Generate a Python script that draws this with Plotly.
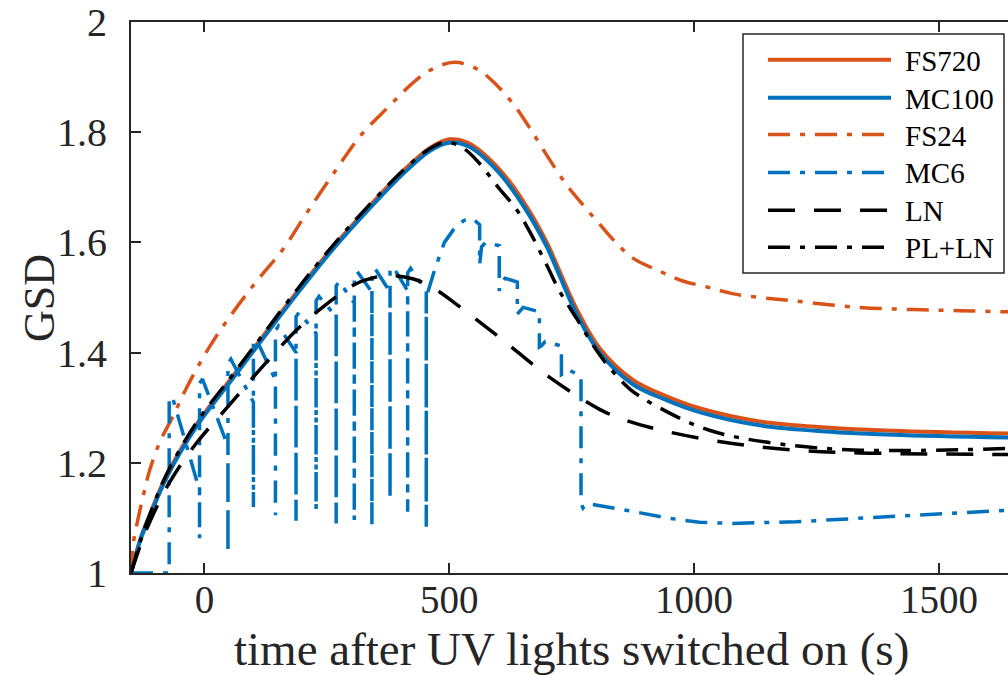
import plotly.graph_objects as go

# ---------------- data ----------------
ORANGE = "#D95319"
BLUE = "#0072BD"

x_solid = [-150, -130, -112, -78, -17, 51, 119, 194, 260, 323, 405, 460, 500, 540, 600, 650,
           698, 725, 760, 807, 874, 940, 1011, 1134, 1270, 1405, 1641]
fs720 = [1.000, 1.064, 1.105, 1.176, 1.269, 1.349, 1.429, 1.516, 1.589, 1.652, 1.729, 1.771, 1.787,
         1.780, 1.735, 1.676, 1.602, 1.548, 1.479, 1.408, 1.351, 1.322, 1.299, 1.275, 1.264, 1.258, 1.253]
mc100 = [1.000, 1.062, 1.102, 1.172, 1.265, 1.345, 1.425, 1.512, 1.585, 1.648, 1.724, 1.766, 1.781,
         1.774, 1.728, 1.668, 1.594, 1.540, 1.470, 1.400, 1.343, 1.315, 1.292, 1.268, 1.257, 1.251, 1.246]

x_fs24 = [-150, -146, -139, -125, -112, -90, -65, -40, -10, 20, 51, 85, 119, 160, 210, 269, 320, 378,
          420, 460, 511, 560, 596, 630, 664, 700, 739, 774, 807, 840, 874, 929, 977, 1031, 1078, 1134,
          1201, 1338, 1450, 1542, 1641]
fs24 = [1.000, 1.050, 1.084, 1.140, 1.186, 1.240, 1.283, 1.330, 1.380, 1.424, 1.464, 1.505, 1.543,
        1.587, 1.655, 1.732, 1.795, 1.848, 1.885, 1.912, 1.927, 1.913, 1.886, 1.852, 1.808, 1.757,
        1.705, 1.667, 1.633, 1.600, 1.572, 1.548, 1.530, 1.518, 1.507, 1.500, 1.494, 1.482, 1.478,
        1.476, 1.474]

x_ln = [-150, -130, -112, -71, -17, 51, 119, 187, 241, 310, 350, 378, 425, 466, 514, 602, 705, 807,
        861, 943, 1078, 1208, 1338, 1641]
ln = [1.000, 1.052, 1.092, 1.165, 1.235, 1.305, 1.375, 1.440, 1.482, 1.525, 1.537, 1.540, 1.534,
      1.518, 1.488, 1.428, 1.355, 1.297, 1.277, 1.257, 1.235, 1.223, 1.218, 1.215]

x_plln = [-150, -130, -112, -78, -17, 51, 119, 194, 260, 323, 405, 460, 495, 530, 560, 600, 637, 664,
          700, 725, 760, 800, 827, 870, 929, 1031, 1168, 1338, 1641]
plln = [1.000, 1.060, 1.105, 1.178, 1.272, 1.352, 1.432, 1.520, 1.592, 1.655, 1.730, 1.770, 1.782,
        1.770, 1.745, 1.700, 1.660, 1.620, 1.557, 1.512, 1.462, 1.405, 1.373, 1.333, 1.300, 1.259,
        1.235, 1.223, 1.226]

# MC6: saw-tooth rise with downward spikes, then step-wise decay
mc6_spike_x = [-72, -10, 48, 100, 145, 187, 228, 269, 306, 342, 379, 415, 453]
mc6_valley = [1.000, 1.150, 1.230, 1.310, 1.350, 1.400, 1.435, 1.465, 1.490, 1.510, 1.510, 1.512, 1.512]
mc6_bottom = [1.000, 1.063, 1.036, 1.120, 1.105, 1.095, 1.114, 1.090, 1.096, 1.087, 1.136, 1.111, 1.084]
mc6_top = [1.313, 1.344, 1.380, 1.416, 1.440, 1.465, 1.494, 1.521, 1.539, 1.545, 1.548, 1.545, 1.500]
mc6_peak_x = [470, 490, 510, 530, 548]
mc6_peak_y = [1.550, 1.600, 1.625, 1.640, 1.643]
mc6_step_x = [562, 602, 639, 684, 729, 769]
mc6_step_before = [1.632, 1.594, 1.528, 1.474, 1.412, 1.357]
mc6_step_after = [1.560, 1.512, 1.470, 1.410, 1.360, 1.127]
mc6_step_plateau = [1.600, 1.535, 1.482, 1.420, 1.370, 1.126]
mc6_tail_x = [874, 943, 1011, 1078, 1208, 1406, 1641]
mc6_tail_y = [1.112, 1.100, 1.092, 1.090, 1.093, 1.102, 1.114]

legend_names = ["FS720", "MC100", "FS24", "MC6", "LN", "PL+LN"]
x_ticks = [0, 500, 1000, 1500]
y_ticks = [1, 1.2, 1.4, 1.6, 1.8, 2]
y_ticktext = ["1", "1.2", "1.4", "1.6", "1.8", "2"]

# ---------------- build MC6 path ----------------
DASHDOT = "22px,10px,5px,10px"
DASHED = "27px,19px"

mx, my = [-150], [1.0]
for i, sx in enumerate(mc6_spike_x):
    mx += [sx, sx, sx]
    my += [mc6_valley[i], mc6_bottom[i], mc6_top[i]]
    if i < len(mc6_spike_x) - 1:
        mx.append(sx + 6)
        my.append(mc6_top[i] + 0.008)
mx += mc6_peak_x
my += mc6_peak_y
for i, sx in enumerate(mc6_step_x):
    mx += [sx, sx, sx + 4, sx + 12]
    my += [mc6_step_before[i], mc6_step_after[i], mc6_step_plateau[i] - 0.008, mc6_step_plateau[i]]
mx += mc6_tail_x
my += mc6_tail_y

fig = go.Figure()
LW = 3.5
LWS = 4
fig.add_trace(go.Scatter(x=x_solid, y=fs720, mode="lines",
                         line=dict(color=ORANGE, width=LWS, shape="spline"), showlegend=False))
fig.add_trace(go.Scatter(x=x_solid, y=mc100, mode="lines",
                         line=dict(color=BLUE, width=LWS, shape="spline"), showlegend=False))
fig.add_trace(go.Scatter(x=x_fs24, y=fs24, mode="lines",
                         line=dict(color=ORANGE, width=LW, dash=DASHDOT, shape="spline"), showlegend=False))
fig.add_trace(go.Scatter(x=mx, y=my, mode="lines",
                         line=dict(color=BLUE, width=LW, dash=DASHDOT), showlegend=False))
fig.add_trace(go.Scatter(x=x_ln, y=ln, mode="lines",
                         line=dict(color="black", width=LW, dash=DASHED, shape="spline"), showlegend=False))
fig.add_trace(go.Scatter(x=x_plln, y=plln, mode="lines",
                         line=dict(color="black", width=LW, dash=DASHDOT, shape="spline"), showlegend=False))

W, H = 1008, 675
L, R, T, B = 131, 0, 20, 102
pw, ph = W - L - R, H - T - B


def px2paper(px, py):
    return (px - L) / pw, (H - B - py) / ph


AX = "#262626"
FONT = "Liberation Serif"

fig.update_layout(
    width=W, height=H, margin=dict(l=L, r=R, t=T, b=B, pad=0),
    plot_bgcolor="white", paper_bgcolor="white",
    font=dict(family=FONT, color=AX),
    xaxis=dict(range=[-150, 1641], tickvals=x_ticks, ticks="inside", ticklen=10,
               tickwidth=1.5, tickcolor=AX, showline=True, linecolor=AX, linewidth=1.8,
               mirror="ticks", showgrid=False, zeroline=False, ticklabeloverflow="allow",
               tickfont=dict(family=FONT, size=39, color=AX), ticklabelstandoff=-9),
    yaxis=dict(range=[1, 2], tickvals=y_ticks, ticktext=y_ticktext,
               ticks="inside", ticklen=10, tickwidth=1.5, tickcolor=AX, showline=True, linecolor=AX,
               linewidth=1.8, mirror=False, showgrid=False, zeroline=False, ticklabeloverflow="allow",
               tickfont=dict(family=FONT, size=40, color=AX), ticklabelstandoff=14),
)

# axis titles
xt, yt = px2paper(571, 649)
fig.add_annotation(text="time after UV lights switched on (s)", x=xt, y=yt, xref="paper", yref="paper",
                   showarrow=False, font=dict(family=FONT, size=47, color=AX), xanchor="center", yanchor="middle")
xt, yt = px2paper(40, 297)
fig.add_annotation(text="GSD", x=xt, y=yt, xref="paper", yref="paper", textangle=-90,
                   showarrow=False, font=dict(family=FONT, size=44, color=AX), xanchor="center", yanchor="middle")

# custom legend
x0, y0 = px2paper(743, 272)
x1, y1 = px2paper(1004, 32)
fig.add_shape(type="rect", xref="paper", yref="paper", x0=x0, y0=y0, x1=x1, y1=y1,
              line=dict(color=AX, width=1.5), fillcolor="white", layer="above")
leg_styles = [(ORANGE, "solid"), (BLUE, "solid"), (ORANGE, DASHDOT), (BLUE, DASHDOT),
              ("black", DASHED), ("black", DASHDOT)]
rows = [58, 96, 133, 171, 209, 246]
for name, (col, dsh), ry in zip(legend_names, leg_styles, rows):
    lx0, ly = px2paper(768, ry)
    lx1, _ = px2paper(891, ry)
    fig.add_shape(type="line", xref="paper", yref="paper", x0=lx0, x1=lx1, y0=ly, y1=ly,
                  line=dict(color=col, width=LWS if dsh == "solid" else LW, dash=dsh), layer="above")
    tx, ty = px2paper(903, ry + 1)
    fig.add_annotation(text=name, x=tx, y=ty, xref="paper", yref="paper", showarrow=False,
                       xanchor="left", yanchor="middle", font=dict(family=FONT, size=29, color="black"))

fig.write_html("out.html")
